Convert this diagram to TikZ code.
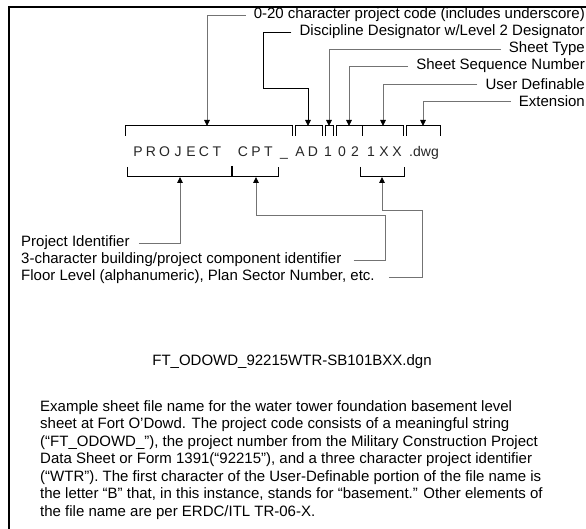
\documentclass[tikz,border=0pt]{standalone}
\usepackage{fontspec}
\setmainfont{Liberation Sans}
\usetikzlibrary{arrows.meta}

\begin{document}
\begin{tikzpicture}[x=1pt, y=-1pt,
		lbl/.style={inner sep=0pt, font=\fontsize{15}{17.5}\selectfont},
		code/.style={inner sep=0pt, anchor=base, font=\fontsize{14}{16}\selectfont, text=black!85},
		brk/.style={draw, line width=1pt},
		lead/.style={draw=black!55, line width=0.9pt},
		arr/.style={-{Triangle[length=6pt, width=5.5pt, color=black]}},
	]
	\useasboundingbox (0,0) rectangle (586,529);

	% Frame
	\draw[line width=2.5pt] (9,529) -- (9,7) -- (586,7);

	% Field labels
	\node[lbl, anchor=east] (prjcode) at (585,15)  {0-20 character project code (includes underscore)};
	\node[lbl, anchor=east] (disc)    at (585,32)  {Discipline Designator w/Level 2 Designator};
	\node[lbl, anchor=east] (shtype)  at (585,49)  {Sheet Type};
	\node[lbl, anchor=east] (shseq)   at (585,66)  {Sheet Sequence Number};
	\node[lbl, anchor=east] (userdef) at (585,84)  {User Definable};
	\node[lbl, anchor=east] (ext)     at (585,101) {Extension};

	% File name characters
	\foreach \ch/\x [count=\i] in {P/138, R/151, O/164.5, J/178, E/191, C/204, T/217,
			C/243, P/256, T/268.5, \_/284, A/300, D/313, 1/328, 0/342, 2/355,
			1/371, X/384, X/397}
		\node[code] (ch\i) at (\x,157) {\ch};
	\node[code] (dwg) at (424,157) {.dwg};

	% Upper brackets
	\draw[brk] (125,136) -- (125,126) -- (292,126) -- (292,136);
	\draw[brk] (295,136) -- (295,126) -- (322,126) -- (322,136);
	\draw[brk] (325,136) -- (325,126) -- (333,126) -- (333,136);
	\draw[brk] (336,136) -- (336,126) -- (362,126) -- (362,136);
	\draw[brk] (362,126) -- (403,126) -- (403,136);
	\draw[brk] (406,136) -- (406,126) -- (440,126) -- (440,136);

	% Lower brackets
	\draw[brk] (127,167) -- (127,177) -- (278,177) -- (278,167);
	\draw[brk, line width=1.6pt] (232,166) -- (232,177);
	\draw[brk] (360,167) -- (360,177) -- (404,177) -- (404,167);

	% Arrow targets
	\coordinate (prjtop) at (207,126);
	\coordinate (adtop)  at (308,126);
	\coordinate (typtop) at (329,126);
	\coordinate (seqtop) at (349,126);
	\coordinate (usrtop) at (383,126);
	\coordinate (exttop) at (423,126);
	\coordinate (idbot)  at (180,177);
	\coordinate (cptbot) at (256,177);
	\coordinate (flrbot) at (382,177);

	% Upper leaders
	\draw[lead, arr] ([xshift=-8pt]prjcode.west) -| (prjtop);
	\draw[lead, draw=black, arr] ([xshift=-8pt]disc.west) -| (263,88) -| (adtop);
	\draw[lead, arr] ([xshift=-8pt]shtype.west) -| (typtop);
	\draw[lead, arr] ([xshift=-8pt]shseq.west) -| (seqtop);
	\draw[lead, arr] ([xshift=-8pt]userdef.west) -| (usrtop);
	\draw[lead, arr] ([xshift=-8pt]ext.west) -| (exttop);

	% Component labels
	\node[lbl, anchor=west] (ident) at (21,243) {Project Identifier};
	\node[lbl, anchor=west] (comp)  at (21,260) {3-character building/project component identifier};
	\node[lbl, anchor=west] (floor) at (21,277) {Floor Level (alphanumeric), Plan Sector Number, etc.};

	% Lower leaders
	\draw[lead, arr] ([xshift=9pt]ident.east) -| (idbot);
	\draw[lead, arr] ([xshift=12pt]comp.east) -| (385,215) -| (cptbot);
	\draw[lead, arr] ([xshift=14pt]floor.east) -| (422,210) -| (flrbot);

	% Example
	\node[lbl] (fname) at (292,362) {FT\_ODOWD\_92215WTR-SB101BXX.dgn};
	\node[lbl, anchor=north west, align=left] (desc) at (40,400) {%
		Example sheet file name for the water tower foundation basement level\\
		sheet at Fort O’Dowd. The project code consists of a meaningful string\\
		(“FT\_ODOWD\_”), the project number from the Military Construction Project\\
		Data Sheet or Form 1391(“92215”), and a three character project identifier\\
		(“WTR”). The first character of the User-Definable portion of the file name is\\
		the letter “B” that, in this instance, stands for “basement.” Other elements of\\
		the file name are per ERDC/ITL TR-06-X.};
\end{tikzpicture}
\end{document}
